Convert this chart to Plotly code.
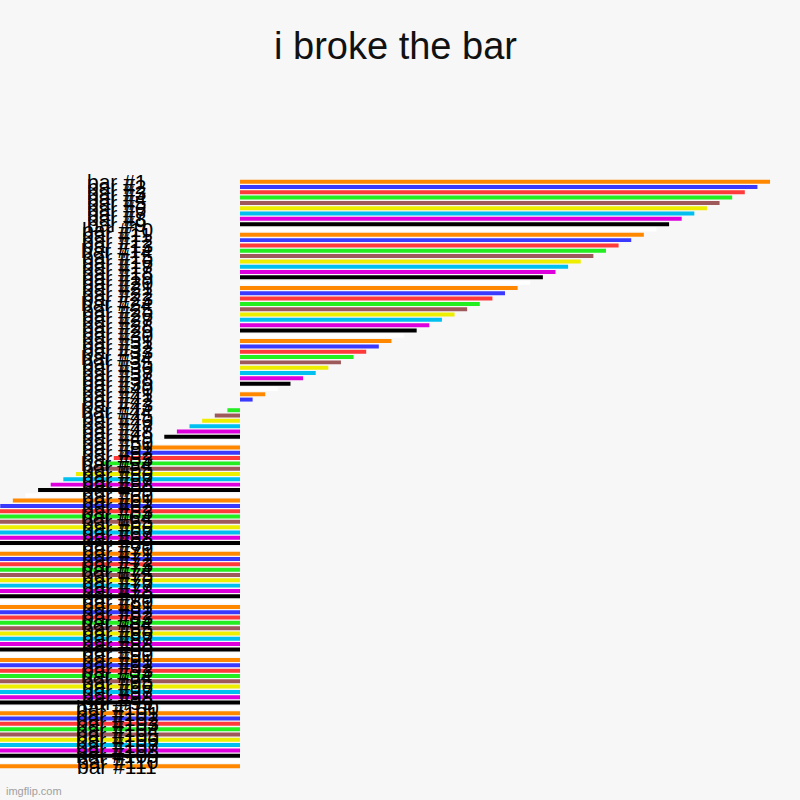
import plotly.graph_objects as go

title_text = "i broke the bar"
bar_labels = ["bar #%d" % i for i in range(1, 112)]
bar_values = [
    42, 41, 40, 39, 38, 37, 36, 35, 34, 33,
    32, 31, 30, 29, 28, 27, 26, 25, 24, 23,
    22, 21, 20, 19, 18, 17, 16, 15, 14, 13,
    12, 11, 10, 9, 8, 7, 6, 5, 4, 3,
    2, 1, 0, -1, -2, -3, -4, -5, -6, -7,
    -8, -9, -10, -11, -12, -13, -14, -15, -16, -17,
    -18, -19, -20, -21, -22, -23, -24, -25, -26, -27,
    -28, -29, -30, -31, -32, -33, -34, -35, -36, -37,
    -38, -39, -40, -41, -42, -43, -44, -45, -46, -47,
    -48, -49, -50, -51, -52, -53, -54, -55, -56, -57,
    -58, -59, -60, -61, -62, -63, -64, -65, -66, -67,
    -68,
]
palette = ["#ff8800", "#3a3aff", "#ff3a3a", "#22ee22", "#9e5a5a",
           "#eeee00", "#00c0f0", "#dd00dd", "#000000", "#ffffff"]
bar_colors = [palette[i % len(palette)] for i in range(len(bar_values))]

BG = "#f7f7f7"
FONT = "Arial, Liberation Sans, sans-serif"

px_per_unit = 12.62
x_range = [-240 / px_per_unit, 560 / px_per_unit]
label_x = (117 - 240) / px_per_unit

plot_top, plot_bottom = 179, 769

fig = go.Figure()
fig.add_trace(go.Bar(
    x=bar_values,
    y=bar_labels,
    orientation="h",
    marker=dict(color=bar_colors, line=dict(width=0)),
    width=0.75,
    hoverinfo="x+y",
))

annotations = []
for lab in bar_labels:
    annotations.append(dict(
        x=label_x, y=lab, xref="x", yref="y", text=lab, showarrow=False,
        xanchor="center", yanchor="middle",
        font=dict(family=FONT, size=21, color="#000000"),
    ))
annotations.append(dict(
    x=4 / 800, y=-(791 - plot_bottom) / (plot_bottom - plot_top),
    xref="paper", yref="paper",
    text="imgflip.com", showarrow=False, xanchor="left", yanchor="middle",
    font=dict(family=FONT, size=11, color="#a0a0a0"),
))

fig.update_layout(
    width=800, height=800,
    paper_bgcolor=BG, plot_bgcolor=BG,
    margin=dict(l=0, r=0, t=plot_top, b=800 - plot_bottom, pad=0),
    showlegend=False,
    title=dict(text=title_text, x=395.5 / 800, xanchor="center",
               y=1 - 46 / 800, yref="container", yanchor="middle",
               font=dict(family=FONT, size=38, color="#111111")),
    xaxis=dict(range=x_range, visible=False, showgrid=False, zeroline=False),
    yaxis=dict(type="category", autorange=False, range=[110.5, -0.5],
               visible=False, showgrid=False, zeroline=False),
    annotations=annotations,
)

fig.write_html(
    "out.html",
    config={"displayModeBar": False},
    post_script="document.body.style.margin='0';document.body.style.background='%s';" % BG,
)
